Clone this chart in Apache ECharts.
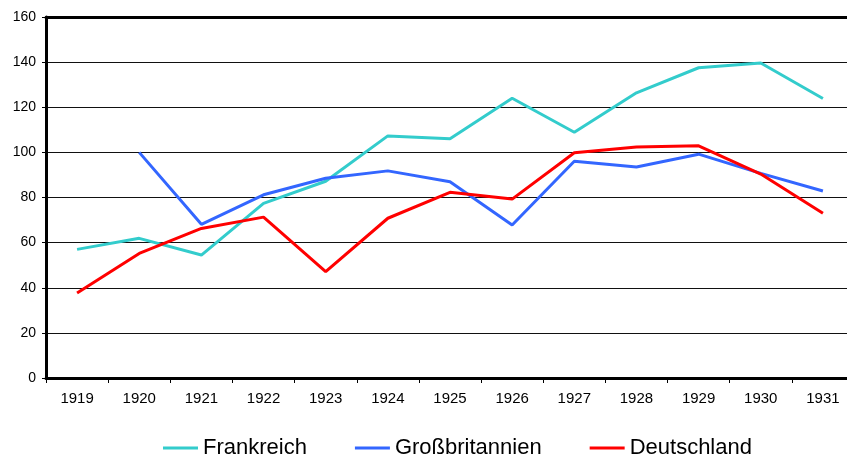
<!DOCTYPE html>
<html>
<head>
<meta charset="utf-8">
<script src="https://cdn.jsdelivr.net/npm/echarts@6/dist/echarts.min.js"></script>
<style>html,body{margin:0;padding:0;background:#fff}#c{width:847px;height:459px}</style>
</head>
<body>
<div id="c"></div>
<script>
const years = ['1919','1920','1921','1922','1923','1924','1925','1926','1927','1928','1929','1930','1931'];
const frankreich = [57.0, 61.9, 54.5, 77.4, 87.2, 107.3, 106.0, 124.0, 108.9, 126.4, 137.5, 139.6, 123.9];
const grossbritannien = [null, 100.0, 68.1, 81.2, 88.5, 91.8, 87.0, 67.8, 96.1, 93.5, 99.2, 90.7, 82.9];
const deutschland = [37.7, 55.2, 66.3, 71.3, 47.1, 70.8, 82.3, 79.3, 99.8, 102.4, 102.9, 90.4, 73.0];
const seriesNames = ['Frankreich', 'Großbritannien', 'Deutschland'];
const seriesColors = ['#33CCCC', '#3366FF', '#FF0000'];

const chart = echarts.init(document.getElementById('c'), null, {renderer: 'canvas'});
const font = 'Liberation Sans, Arial, sans-serif';
const mk = (name, data, color) => ({
  name, type: 'line', data, symbol: 'none', showSymbol: false, connectNulls: false,
  lineStyle: {color, width: 3}, itemStyle: {color}, animation: false, z: 5
});
chart.setOption({
  animation: false,
  backgroundColor: '#fff',
  grid: {left: 46, top: 17, width: 808, height: 361, containLabel: false, outerBoundsMode: 'none'},
  legend: {
    left: 158, top: 432, padding: 5, icon: 'rect', itemWidth: 35, itemHeight: 3, itemGap: 48,
    textStyle: {fontFamily: font, fontSize: 22, color: '#000'},
    data: seriesNames
  },
  xAxis: [{
    type: 'category', data: years, boundaryGap: true,
    axisLine: {lineStyle: {color: '#000', width: 3}},
    axisTick: {show: true, length: 5, lineStyle: {color: '#000', width: 1}},
    axisLabel: {fontFamily: font, fontSize: 15, color: '#000', margin: 13, interval: 0},
    splitLine: {show: false}
  }, {
    type: 'category', data: years, position: 'top',
    axisLine: {show: true, lineStyle: {color: '#000', width: 3}},
    axisTick: {show: false}, axisLabel: {show: false}, splitLine: {show: false}
  }],
  yAxis: {
    type: 'value', min: 0, max: 160, interval: 20,
    axisLine: {show: true, lineStyle: {color: '#000', width: 3}},
    axisTick: {show: true, length: 4, lineStyle: {color: '#000', width: 1}},
    axisLabel: {fontFamily: font, fontSize: 14, color: '#000', margin: 10},
    splitLine: {show: true, lineStyle: {color: '#111', width: 1}}
  },
  series: [
    mk(seriesNames[0], frankreich, seriesColors[0]),
    mk(seriesNames[1], grossbritannien, seriesColors[1]),
    mk(seriesNames[2], deutschland, seriesColors[2])
  ]
});
</script>
</body>
</html>
